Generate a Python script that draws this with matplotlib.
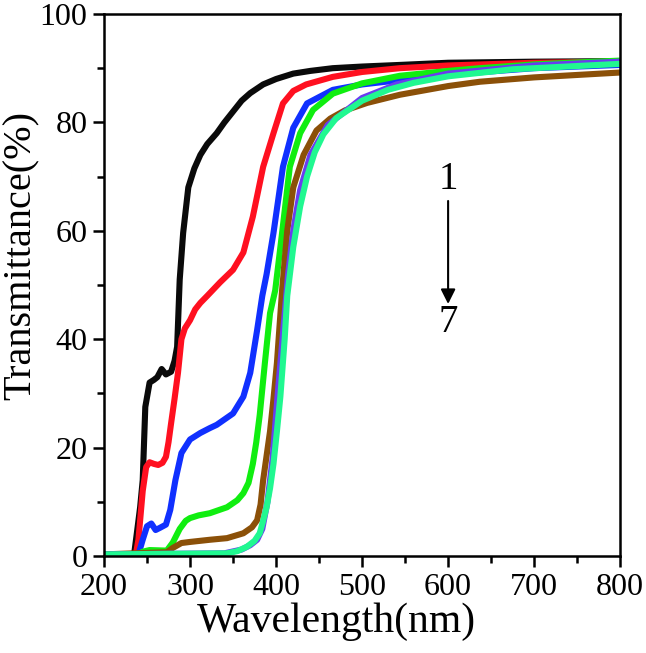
import matplotlib
matplotlib.use("Agg")
import matplotlib.pyplot as plt
from matplotlib.ticker import MultipleLocator

plt.rcParams["font.family"] = ["Liberation Serif", "DejaVu Serif"]

# curve 1 (black)
x1 = [200, 235, 238, 242, 245, 248, 253, 258, 262, 267, 272, 278, 282, 285, 288, 292, 298, 305,
      312, 320, 331, 340, 350, 360, 370, 385, 400, 420, 440, 466, 500, 544, 600, 700, 800]
y1 = [0.3, 0.3, 4, 9, 14, 27.5, 32, 32.5, 33, 34.5, 33.5, 34, 36, 38.6, 51, 59.6, 68, 71.5,
      74, 76, 78, 80, 82, 84, 85.4, 87, 88, 89, 89.5, 90, 90.3, 90.6, 91, 91.2, 91.3]

# curve 2 (red)
x2 = [200, 237, 240, 245, 249, 253, 258, 263, 268, 272, 275, 278, 282, 286, 290, 294, 300, 306,
      312, 320, 335, 350, 362, 373, 385, 397, 408, 420, 435, 466, 500, 544, 600, 700, 800]
y2 = [0.3, 0.3, 3, 12, 16.4, 17.3, 17, 16.8, 17.2, 18.3, 21, 24.5, 29, 33.8, 40, 42, 43.5, 45.5,
      46.7, 48, 50.5, 52.8, 56, 62.6, 71.8, 78, 83.5, 85.8, 87, 88.4, 89.3, 90, 90.5, 91, 91.2]

# curve 3 (blue)
x3 = [200, 240, 245, 250, 255, 260, 265, 272, 277, 283, 290, 300, 312, 323, 331, 350, 362, 370,
      378, 384, 389, 397, 408, 420, 436, 466, 500, 544, 600, 700, 800]
y3 = [0.3, 0.3, 3, 5.5, 6, 4.8, 5.2, 5.8, 8.5, 14, 19, 21.5, 22.7, 23.6, 24.2, 26.3, 29.4, 33.8,
      41.7, 48, 52, 59.6, 71.8, 79, 83.5, 86, 87, 87.8, 88.8, 90, 90.6]

# curve 4 (green)
x4 = [200, 240, 245, 253, 273, 280, 288, 295, 300, 310, 323, 343, 355, 362, 368, 373, 377, 381,
      387, 393, 399, 407, 416, 428, 443, 466, 500, 544, 600, 637, 700, 800]
y4 = [0.3, 0.3, 0.8, 1.1, 1.0, 2.5, 5, 6.5, 7, 7.5, 7.9, 9, 10.3, 11.6, 13.5, 17, 21, 26,
      35.6, 44.8, 49, 59.6, 71.8, 78, 82.3, 85.3, 87.2, 88.6, 89.5, 90, 90.7, 91.4]

# curve 5 (brown)
x5 = [200, 235, 273, 280, 290, 300, 323, 343, 362, 372, 378, 382, 385, 389, 393, 397, 401, 407,
      413, 420, 432, 447, 463, 480, 506, 544, 600, 637, 700, 800]
y5 = [0.3, 0.5, 0.7, 1.5, 2.4, 2.6, 3, 3.3, 4.2, 5.3, 6.6, 9.5, 14, 18.5, 23, 29, 35.6, 49,
      60, 68, 74, 78.5, 80.7, 82.2, 83.6, 85.1, 86.7, 87.5, 88.3, 89.2]

# curve 6 (purple)
x6 = [200, 340, 360, 370, 378, 384, 390, 396, 402, 408, 414, 420, 428, 440, 460, 500, 540,
      600, 700, 800]
y6 = [0.3, 0.5, 1.2, 2, 3, 5, 10, 18, 30, 41, 52, 60, 67.5, 74, 79.5, 84.5, 87, 89, 90.5, 91.2]

# curve 7 (spring green)
x7 = [200, 343, 355, 366, 375, 381, 385, 389, 393, 397, 401, 405, 410, 413, 420, 428, 436, 445,
      455, 470, 500, 530, 560, 600, 675, 800]
y7 = [0.3, 0.5, 0.9, 1.7, 2.8, 4.2, 6.5, 9, 12.5, 17, 23, 29.4, 40, 48, 57, 64.5, 70, 74.5,
      77.8, 80.8, 84, 86, 87.3, 88.5, 89.8, 90.8]

curves = [(x1, y1, "#0a0a0a"), (x2, y2, "#ff1020"), (x3, y3, "#1030ff"),
          (x4, y4, "#10ee10"), (x5, y5, "#8b5008"), (x6, y6, "#6a3cf0"),
          (x7, y7, "#20f890")]

fig = plt.figure(figsize=(6.46, 6.53), dpi=100)
ax = fig.add_axes([0.161, 0.1485, 0.799, 0.8301])

for x, y, c in curves:
    ax.plot(x, y, color=c, lw=4.4, solid_capstyle="butt")

ax.set_xlim(200, 800)
ax.set_ylim(0, 100)
ax.xaxis.set_major_locator(MultipleLocator(100))
ax.xaxis.set_minor_locator(MultipleLocator(50))
ax.yaxis.set_major_locator(MultipleLocator(20))
ax.yaxis.set_minor_locator(MultipleLocator(10))
ax.tick_params(which="both", direction="out", width=1.8, labelsize=23, top=False, right=False)
ax.tick_params(which="major", length=8, pad=4)
ax.tick_params(which="minor", length=5)
for s in ax.spines.values():
    s.set_linewidth(1.8)

ax.set_xlabel("Wavelength(nm)", fontsize=30, labelpad=-2)
ax.set_ylabel("Transmittance(%)", fontsize=29, labelpad=-2)
ax.xaxis.set_label_coords(0.45, -0.085)
ax.yaxis.set_label_coords(-0.125, 0.555)

ax.text(600, 69.4, "1", fontsize=28, ha="center", va="center")
ax.text(600, 43, "7", fontsize=28, ha="center", va="center")
ax.annotate("", xy=(600, 46.5), xytext=(600, 65.5),
            arrowprops=dict(arrowstyle="-|>", color="black", lw=1.5,
                            mutation_scale=22, shrinkA=0, shrinkB=0))

fig.savefig("out.png", dpi=100)
